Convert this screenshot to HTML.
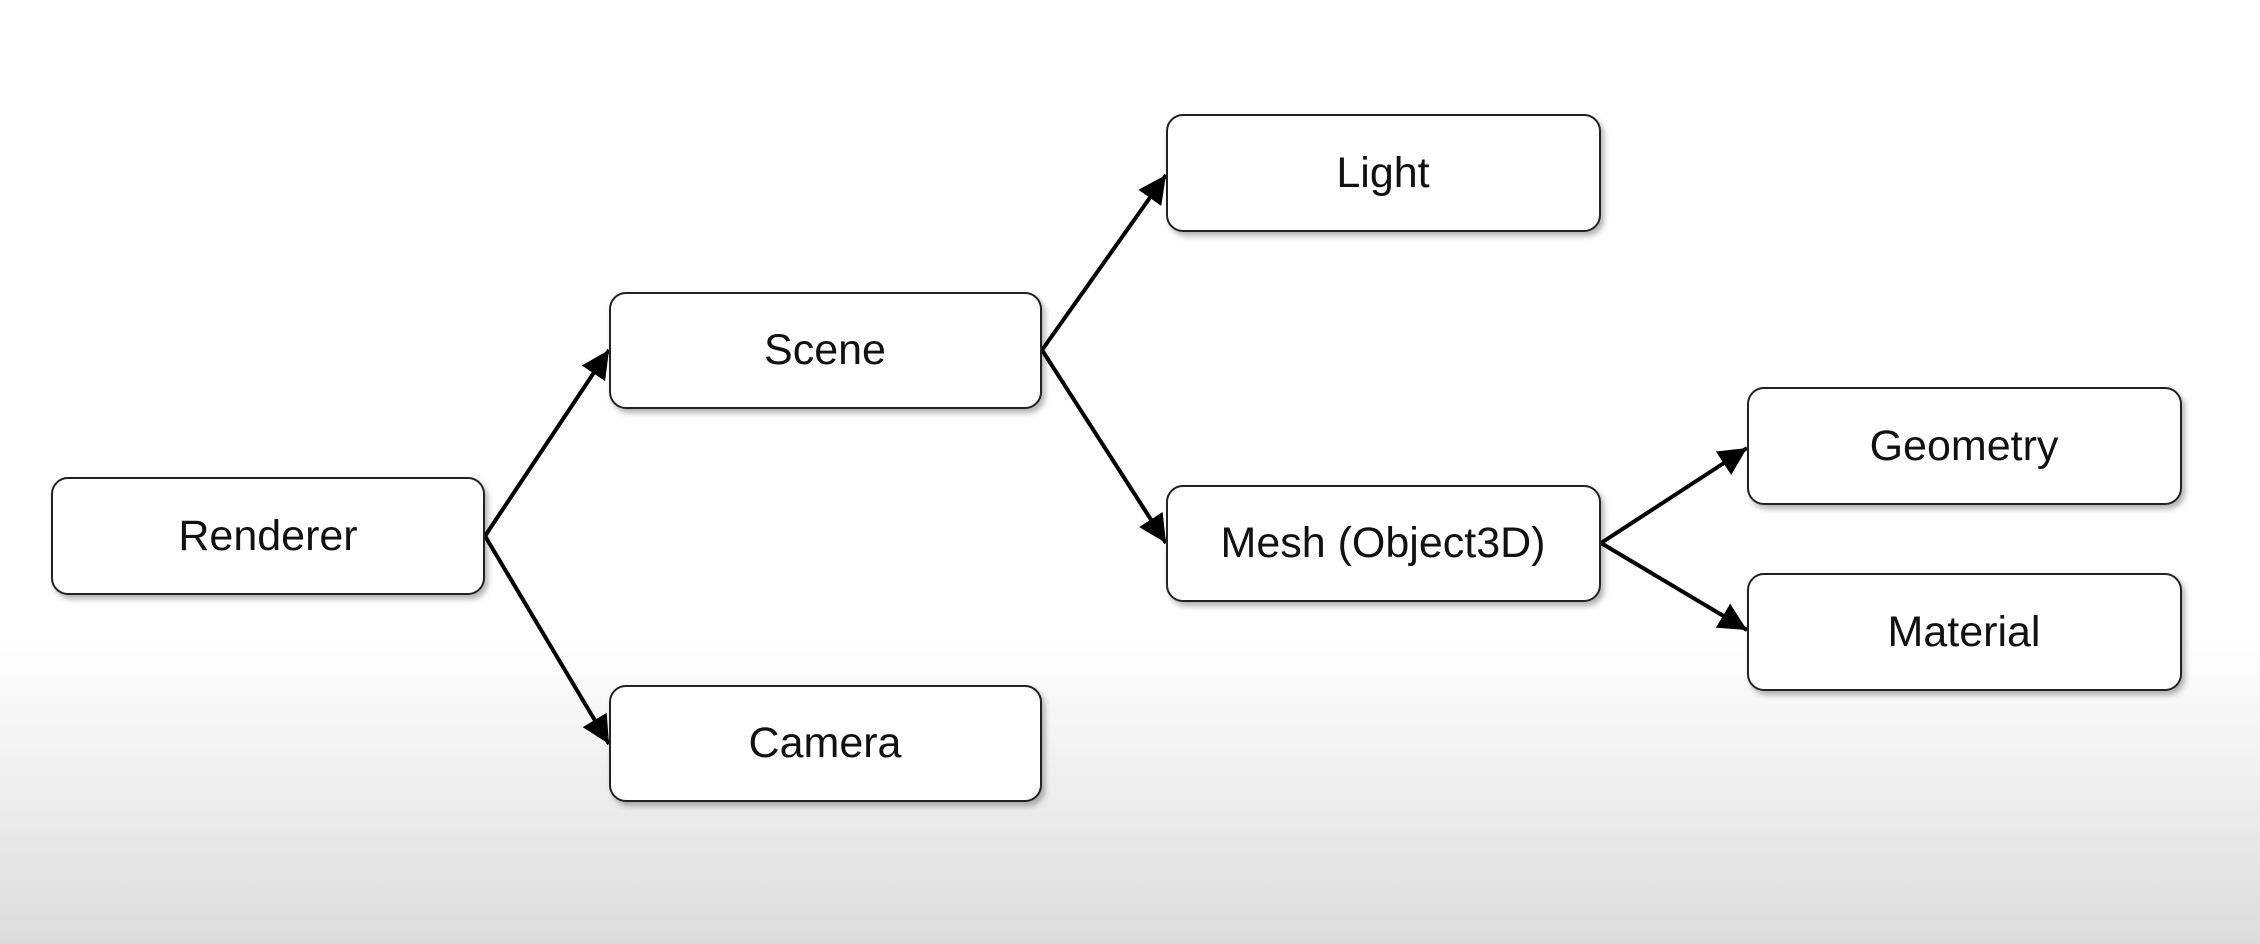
<!DOCTYPE html>
<html><head><meta charset="utf-8"><style>
html,body{margin:0;padding:0;width:2260px;height:944px;overflow:hidden;background:linear-gradient(to bottom,#fff 0px,#fff 640px,#dcdcdc 944px);}
svg{position:absolute;left:0;top:0}
text{font-family:"Liberation Sans",sans-serif;font-size:43px;fill:#111;text-anchor:middle;dominant-baseline:central}
</style></head><body>
<svg width="2260" height="944" viewBox="0 0 2260 944">
<defs>
<marker id="a" markerWidth="10" markerHeight="10" refX="9" refY="5" orient="auto" markerUnits="userSpaceOnUse" viewBox="0 0 10 10">
</marker>
<marker id="ar" viewBox="0 0 10 10" refX="10" refY="5" markerWidth="28" markerHeight="28" markerUnits="userSpaceOnUse" orient="auto"><path d="M0,0 L10,5 L0,10 z" fill="#000"/></marker>
<filter id="s" x="-10%" y="-20%" width="130%" height="150%"><feDropShadow dx="3" dy="4" stdDeviation="3" flood-color="#000" flood-opacity="0.3"/></filter>
</defs>
<g stroke="#000" stroke-width="4" fill="none" marker-end="url(#ar)">
<line x1="485" y1="536" x2="609" y2="350"/>
<line x1="485" y1="536" x2="609" y2="744"/>
<line x1="1042" y1="350" x2="1166" y2="175"/>
<line x1="1042" y1="350" x2="1166" y2="543"/>
<line x1="1601" y1="543" x2="1747" y2="448"/>
<line x1="1601" y1="543" x2="1747" y2="630"/>
</g>
<g fill="#fff" stroke="#222" stroke-width="2" filter="url(#s)">
<rect x="52" y="478" width="432" height="116" rx="16"/>
<rect x="610" y="293" width="431" height="115" rx="16"/>
<rect x="610" y="686" width="431" height="115" rx="16"/>
<rect x="1167" y="115" width="433" height="116" rx="16"/>
<rect x="1167" y="486" width="433" height="115" rx="16"/>
<rect x="1748" y="388" width="433" height="116" rx="16"/>
<rect x="1748" y="574" width="433" height="116" rx="16"/>
</g>
<text x="268" y="536">Renderer</text>
<text x="825" y="350">Scene</text>
<text x="825" y="743">Camera</text>
<text x="1383" y="173">Light</text>
<text x="1383" y="543">Mesh (Object3D)</text>
<text x="1964" y="446">Geometry</text>
<text x="1964" y="632">Material</text>
</svg>
</body></html>
